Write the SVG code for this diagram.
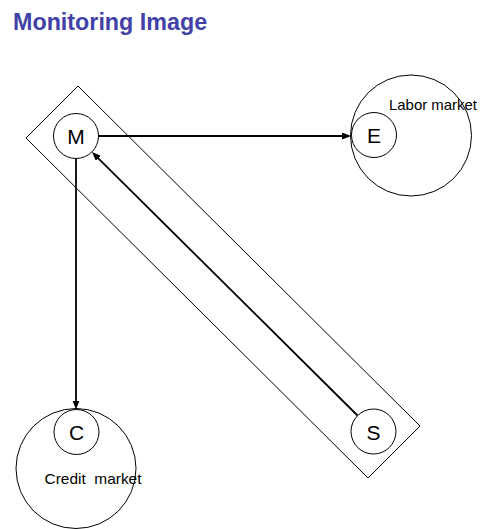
<svg xmlns="http://www.w3.org/2000/svg" width="481" height="529" viewBox="0 0 481 529">
<style>
.title{font-family:"Liberation Sans",Arial,sans-serif;font-weight:bold;font-size:23.3px;fill:#4141A8}
.shape{fill:none;stroke:#000;stroke-width:1}
.letter{font-family:"Liberation Sans",Arial,sans-serif;font-size:21px;fill:#000;text-anchor:middle}
.lbl{font-family:"Liberation Sans",Arial,sans-serif;font-size:15px;fill:#000}
.conn{fill:none;stroke:#000;stroke-width:1.8}
</style>
<defs>
<marker id="arr" markerUnits="userSpaceOnUse" markerWidth="10" markerHeight="8" refX="5" refY="3.5" orient="auto" viewBox="0 0 10 8">
<path d="M0,0 L9,3.5 L0,7 z" fill="#000"/>
</marker>
</defs>
<rect width="481" height="529" fill="#fff"/>
<text class="title" x="13" y="30">Monitoring Image</text>
<polygon id="band" class="shape" points="78,86 420,426 368,478 26,138"/>
<g id="labor-market">
<circle class="shape" cx="411" cy="135.5" r="60.5"/>
<text class="lbl" x="389" y="109.5" textLength="88" lengthAdjust="spacingAndGlyphs">Labor market</text>
</g>
<g id="credit-market">
<circle class="shape" cx="76" cy="468.5" r="60"/>
<text class="lbl" x="44.5" y="484" xml:space="preserve" textLength="97" lengthAdjust="spacingAndGlyphs">Credit  market</text>
</g>
<g id="node-M">
<circle class="shape" cx="76" cy="136" r="22.5"/>
<text class="letter" x="76" y="144">M</text>
</g>
<g id="node-E">
<circle class="shape" cx="374" cy="135" r="22.5"/>
<text class="letter" x="374" y="143">E</text>
</g>
<g id="node-C">
<circle class="shape" cx="76.5" cy="432" r="22.5"/>
<text class="letter" x="76.5" y="440">C</text>
</g>
<g id="node-S">
<circle class="shape" cx="373.5" cy="431.5" r="22.5"/>
<text class="letter" x="373.5" y="439.5">S</text>
</g>
<g id="connectors">
<line class="conn" x1="98.5" y1="136" x2="347" y2="136" marker-end="url(#arr)"/>
<line class="conn" x1="76" y1="158.5" x2="76" y2="405.5" marker-end="url(#arr)"/>
<line class="conn" x1="357.5" y1="415.5" x2="94.8" y2="154.8" marker-end="url(#arr)"/>
</g>
</svg>
